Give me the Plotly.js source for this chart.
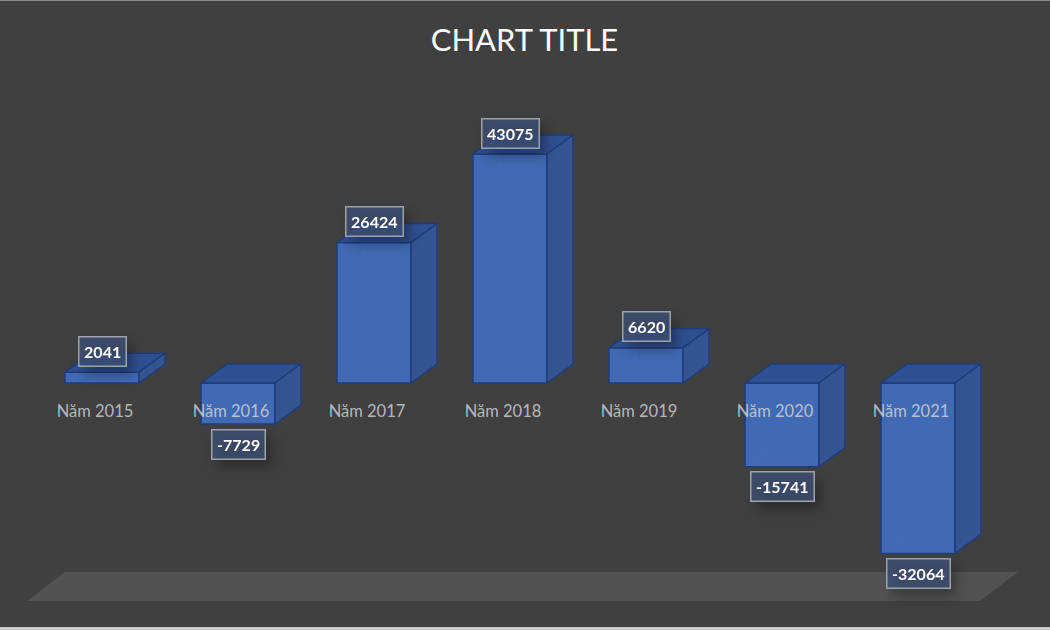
<!DOCTYPE html>
<html>
<head>
<meta charset="utf-8">
<script src="https://cdn.plot.ly/plotly-3.0.1.min.js"></script>
<style>
html,body{margin:0;padding:0;background:#404040;overflow:hidden}
#chart{width:1050px;height:630px}
.annotation{filter:drop-shadow(6px 8px 6px rgba(0,0,0,.35))}
</style>
</head>
<body>
<div id="chart"></div>
<script>
const categories = ["Năm 2015","Năm 2016","Năm 2017","Năm 2018","Năm 2019","Năm 2020","Năm 2021"];
const values = [2041,-7729,26424,43075,6620,-15741,-32064];
const positions = categories.map((_, i) => i);

const W = 1050, H = 630;
const pxPerCat = 136, firstCenterPx = 102;
const pxPerUnit = 229 / 43075, zeroPx = 383;
const barWidth = 74 / pxPerCat;
const depthX = 26 / pxPerCat, depthY = 19 / pxPerUnit;

const COL_FRONT = "#4169b4", COL_TOP = "#2f5090", COL_SIDE = "#355590", COL_EDGE = "#1f3c7a";

const traces = [{
  type: "bar", x: positions, y: values, width: barWidth, hoverinfo: "skip",
  marker: {color: COL_FRONT, line: {color: COL_EDGE, width: 1.5}}
}];

function face(xs, ys, color) {
  return {type: "scatter", mode: "lines", x: xs, y: ys, fill: "toself", fillcolor: color,
          line: {color: COL_EDGE, width: 1.5}, hoverinfo: "skip"};
}
values.forEach((v, i) => {
  const top = Math.max(v, 0), bot = Math.min(v, 0);
  const l = i - barWidth / 2, r = i + barWidth / 2;
  traces.push(face([l, r, r + depthX, l + depthX, l], [top, top, top + depthY, top + depthY, top], COL_TOP));
  traces.push(face([r, r + depthX, r + depthX, r, r], [top, top + depthY, bot + depthY, bot, top], COL_SIDE));
  // faint back edges seen through the translucent front
  traces.push({type: "scatter", mode: "lines", hoverinfo: "skip",
    x: [l + depthX, l + depthX, null, l, l + depthX],
    y: [top, bot + depthY, null, bot, bot + depthY],
    line: {color: "rgba(255,255,255,0.035)", width: 1}});
});

const annotations = values.map((v, i) => ({
  x: i, y: v, xref: "x", yref: "y", showarrow: false,
  yshift: v >= 0 ? 21 : -20,
  text: "<b>" + v + "</b>",
  font: {family: "Lato, 'Open Sans', sans-serif", size: 16, color: "#ffffff"},
  bgcolor: "rgba(62,80,116,0.78)", bordercolor: "#9da2aa", borderwidth: 1.5, borderpad: 4.6
}));

const px = x => x / W, py = y => 1 - y / H;
const shapes = [
  {type: "path", xref: "paper", yref: "paper", layer: "below", line: {width: 0}, fillcolor: "#535252",
   path: `M${px(27)},${py(601)} L${px(65)},${py(572)} L${px(1018)},${py(572)} L${px(980)},${py(601)} Z`},
  {type: "rect", xref: "paper", yref: "paper", layer: "below", line: {width: 0}, fillcolor: "#cfcfcf",
   x0: 0, x1: 1, y0: 0, y1: py(627)},
  {type: "rect", xref: "paper", yref: "paper", layer: "below", line: {width: 0}, fillcolor: "#8a8a8a",
   x0: 0, x1: 1, y0: py(1), y1: 1}
];

const layout = {
  width: W, height: H, showlegend: false,
  margin: {l: 0, r: 0, t: 0, b: 0},
  paper_bgcolor: "#404040", plot_bgcolor: "rgba(0,0,0,0)",
  title: {text: "CHART TITLE", x: 524.5 / W, xanchor: "center", y: py(40), yanchor: "middle",
          font: {family: "Lato, 'Open Sans', sans-serif", size: 31, color: "#ffffff"}},
  xaxis: {
    range: [-firstCenterPx / pxPerCat, (W - firstCenterPx) / pxPerCat],
    tickmode: "array", tickvals: positions, ticktext: categories,
    anchor: "free", position: py(zeroPx),
    ticks: "outside", ticklen: 13.5, tickcolor: "rgba(0,0,0,0)", tickwidth: 1,
    ticklabelshift: -7,
    tickfont: {family: "Lato, 'Open Sans', sans-serif", size: 16.5, color: "rgba(217,217,217,0.8)"},
    showgrid: false, zeroline: false, showline: false, fixedrange: true
  },
  yaxis: {
    range: [-(H - zeroPx) / pxPerUnit, zeroPx / pxPerUnit],
    visible: false, showgrid: false, zeroline: false, fixedrange: true
  },
  shapes, annotations
};

Plotly.newPlot("chart", traces, layout, {displayModeBar: false, staticPlot: true});
</script>
</body>
</html>
